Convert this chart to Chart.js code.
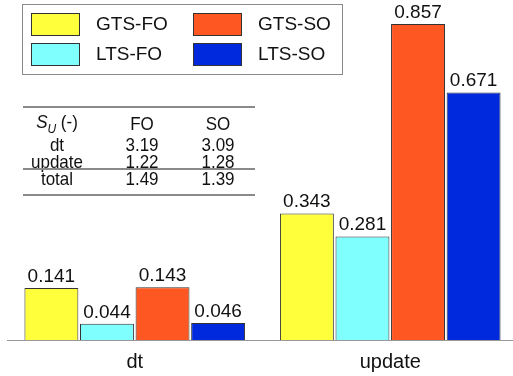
<!DOCTYPE html>
<html>
<head>
<meta charset="utf-8">
<script src="https://cdn.jsdelivr.net/npm/chart.js@4"></script>
<style>
  html, body { margin: 0; padding: 0; background: #fff; }
  #wrap { position: relative; width: 513px; height: 376px; overflow: hidden; }
  #wrap canvas { position: absolute; left: 0; top: 0; }
  .cell { position: absolute; font: 17px "Liberation Sans", Arial, sans-serif; color: #111;
          transform: translate(-50%, -50%) scaleY(1.08); white-space: nowrap; line-height: 1; }
  .rule { position: absolute; left: 23px; width: 232px; background: #8a8a8a; }
</style>
</head>
<body>
<div id="wrap">
  <canvas id="chart" width="518" height="376"></canvas>
  <div id="table"></div>
</div>
<script>
const categories = ["dt", "update"];
const seriesNames = ["GTS-FO", "LTS-FO", "GTS-SO", "LTS-SO"];
const gtsFo = [0.141, 0.343];
const ltsFo = [0.044, 0.281];
const gtsSo = [0.143, 0.857];
const ltsSo = [0.046, 0.671];
const colors = ["#ffff3c", "#80ffff", "#ff5722", "#0028dc"];

// speed-up table
const tableCols = ["FO", "SO"];
const tableRows = ["dt", "update", "total"];
const speedFo = ["3.19", "1.22", "1.49"];
const speedSo = ["3.09", "1.28", "1.39"];

const font = '"Liberation Sans", Arial, sans-serif';

// table built as positioned text
const table = document.getElementById("table");
const colX = [57, 142, 218];
const rowY = [124, 145, 162, 179];
function addCell(html, x, y) {
  const d = document.createElement("div");
  d.className = "cell";
  d.style.left = x + "px";
  d.style.top = y + "px";
  d.innerHTML = html;
  table.appendChild(d);
}
addCell('<i>S<sub style="font-size:12px">U</sub></i> (-)', colX[0], rowY[0]);
tableCols.forEach((c, i) => addCell(c, colX[i + 1], rowY[0]));
tableRows.forEach((r, i) => {
  addCell(r, colX[0], rowY[i + 1]);
  addCell(speedFo[i], colX[1], rowY[i + 1]);
  addCell(speedSo[i], colX[2], rowY[i + 1]);
});
[[106, 2], [168, 1.5], [194, 2]].forEach(([y, h]) => {
  const l = document.createElement("div");
  l.className = "rule";
  l.style.top = y + "px";
  l.style.height = h + "px";
  table.appendChild(l);
});

const valueLabels = {
  id: "valueLabels",
  afterDatasetsDraw(chart) {
    const ctx = chart.ctx;
    ctx.save();
    ctx.font = "19px " + font;
    ctx.fillStyle = "#111";
    ctx.textAlign = "center";
    ctx.textBaseline = "bottom";
    chart.data.datasets.forEach((ds, i) => {
      chart.getDatasetMeta(i).data.forEach((bar, j) => {
        ctx.fillText(ds.data[j].toFixed(3), bar.x, bar.y - 2);
      });
    });
    ctx.restore();
  }
};

const boxLegend = {
  id: "boxLegend",
  afterDraw(chart) {
    const ctx = chart.ctx;
    ctx.save();
    ctx.fillStyle = "#fff";
    ctx.fillRect(22, 4, 320, 70);
    ctx.strokeStyle = "#8a8a8a";
    ctx.lineWidth = 1;
    ctx.strokeRect(22.5, 4.5, 320, 70);
    ctx.font = "19px " + font;
    ctx.textBaseline = "middle";
    chart.data.datasets.forEach((ds, i) => {
      const col = i < 2 ? 0 : 1;
      const row = i % 2;
      const x = 31 + col * 162;
      const y = 13 + row * 30;
      ctx.fillStyle = ds.backgroundColor;
      ctx.fillRect(x, y, 49, 23);
      ctx.strokeStyle = "#333";
      ctx.strokeRect(x + 0.5, y + 0.5, 48, 22);
      ctx.fillStyle = "#111";
      ctx.fillText(ds.label, x + 65, y + 12);
    });
    ctx.restore();
  }
};

const seriesData = [gtsFo, ltsFo, gtsSo, ltsSo];

new Chart(document.getElementById("chart"), {
  type: "bar",
  data: {
    labels: categories,
    datasets: seriesNames.map((name, i) => ({
      label: name,
      data: seriesData[i],
      backgroundColor: colors[i],
      borderColor: "#333",
      borderWidth: 1,
      categoryPercentage: 0.87,
      barPercentage: 0.97
    }))
  },
  options: {
    responsive: false,
    animation: false,
    layout: { padding: { left: 7, top: 0, right: 0, bottom: 0 } },
    plugins: { legend: { display: false }, tooltip: { enabled: false } },
    scales: {
      y: { display: false, min: 0, max: 0.922 },
      x: {
        grid: { display: false, drawTicks: false },
        border: { display: true, color: "#999", width: 1 },
        ticks: { color: "#111", font: { family: font, size: 20 }, padding: 10 },
        afterFit(scale) { scale.height = 36; }
      }
    }
  },
  plugins: [valueLabels, boxLegend]
});
</script>
</body>
</html>
